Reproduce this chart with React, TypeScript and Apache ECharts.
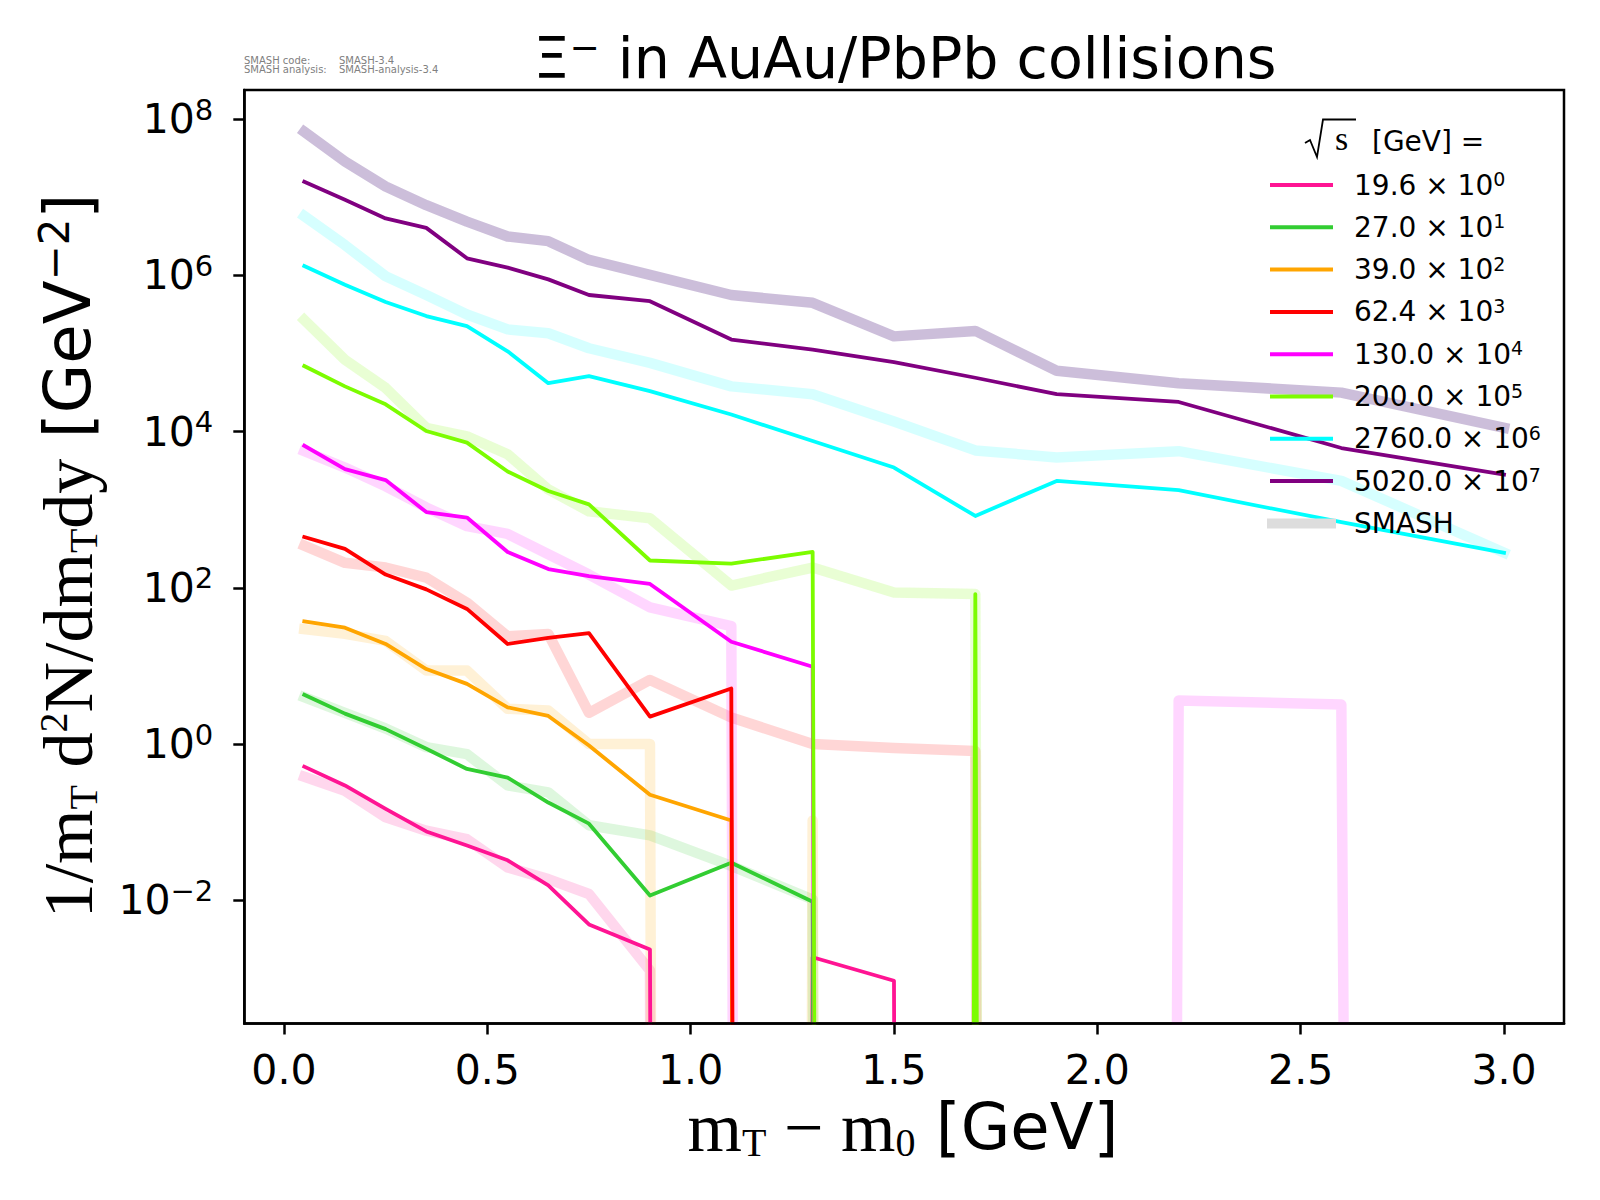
import React, { useEffect, useRef } from 'react';
import * as echarts from 'echarts';

// bin centres, m_T - m_0 [GeV]
export const mtBins = [0.05, 0.15, 0.25, 0.35, 0.45, 0.55, 0.65, 0.75, 0.9, 1.1, 1.3, 1.5, 1.7, 1.9, 2.2, 2.6, 3.0];

// measured spectra (already multiplied by the legend factor); 0 = empty bin
export const exp196 = [0.513, 0.295, 0.148, 0.0759, 0.0501, 0.0324, 0.0155, 0.0049, 0.00234, 0, 0.00186, 0.00093, 0, 0, 0, 0, 0];
export const exp270 = [4.27, 2.45, 1.55, 0.87, 0.479, 0.372, 0.178, 0.0955, 0.0115, 0.0302, 0.00955, 0, 0, 0, 0, 0, 0];
export const exp390 = [37.2, 30.9, 19.1, 9.12, 5.89, 2.95, 2.29, 0.955, 0.224, 0.105, 0, 0, 0, 0, 0, 0, 0];
export const exp624 = [447, 316, 148, 95.5, 53.7, 19.1, 22.9, 26.3, 2.24, 5.13, 0, 0, 0, 0, 0, 0, 0];
export const exp1300 = [6610, 3310, 2400, 933, 794, 288, 174, 141, 112, 20.4, 9.77, 0, 0, 0, 0, 0, 0];
export const exp2000 = [69200, 38000, 22400, 10200, 7240, 3090, 1740, 1170, 224, 204, 288, 0, 83.2, 0, 0, 0, 0];
export const exp27600 = [1.32e6, 7.59e5, 4.57e5, 3.02e5, 2.24e5, 1.07e5, 4.17e4, 5.13e4, 3.31e4, 1.66e4, 7590, 3470, 832, 2340, 1780, 692, 282];
export const exp50200 = [1.58e7, 9.33e6, 5.37e6, 4.07e6, 1.66e6, 1.26e6, 8.91e5, 5.62e5, 4.68e5, 1.51e5, 1.12e5, 7.76e4, 4.9e4, 3.02e4, 2.4e4, 6170, 2820];

// SMASH results, same scaling
export const smash196 = [0.38, 0.251, 0.115, 0.0776, 0.0603, 0.0263, 0.0186, 0.012, 0.00126, 0, 0, 0, 0, 0, 0, 0, 0];
export const smash270 = [3.98, 2.51, 1.58, 0.912, 0.741, 0.295, 0.24, 0.0912, 0.0676, 0.0275, 0.0102, 0, 0, 0, 0, 0, 0];
export const smash390 = [29.5, 25.7, 20.9, 8.71, 8.71, 2.82, 2.69, 1.0, 1.0, 0, 0.105, 0, 0, 0, 0, 0, 0];
export const smash624 = [347, 209, 182, 135, 64.6, 24.0, 25.7, 2.51, 6.61, 2.19, 1.0, 0.891, 0.813, 0, 0, 0, 0];
export const smash1300 = [5620, 3470, 2000, 1070, 617, 490, 269, 148, 56.2, 32.4, 0, 0, 0, 0, 3.6, 3.2, 0];
export const smash2000 = [269000, 83200, 36300, 11200, 8710, 5130, 1820, 955, 776, 107, 182, 87.1, 83.2, 0, 0, 0, 0];
export const smash27600 = [5.75e6, 2.45e6, 9.77e5, 5.62e5, 3.16e5, 2.04e5, 1.82e5, 1.17e5, 7.59e4, 3.8e4, 3.02e4, 1.35e4, 5750, 4680, 5620, 2340, 282];
export const smash50200 = [6.92e7, 2.88e7, 1.38e7, 7.94e6, 4.9e6, 3.16e6, 2.75e6, 1.58e6, 1.02e6, 5.62e5, 4.47e5, 1.66e5, 1.95e5, 6.03e4, 4.17e4, 3.16e4, 1.12e4];

export const energyLabels = ['19.6', '27.0', '39.0', '62.4', '130.0', '200.0', '2760.0', '5020.0'];
export const scalePowers = ['0', '1', '2', '3', '4', '5', '6', '7'];
export const yDecades = [-2, 0, 2, 4, 6, 8];
export const xTicks = [0, 0.5, 1.0, 1.5, 2.0, 2.5, 3.0];

const measured = [exp196, exp270, exp390, exp624, exp1300, exp2000, exp27600, exp50200];
const smash = [smash196, smash270, smash390, smash624, smash1300, smash2000, smash27600, smash50200];

const lineColors = ['#ff1493', '#32cd32', '#ffa500', '#ff0000', '#ff00ff', '#7cfc00', '#00ffff', '#800080'];
const smashColors = [
    'rgba(255,20,147,0.17)',
    'rgba(50,205,50,0.16)',
    'rgba(255,165,0,0.16)',
    'rgba(255,0,0,0.16)',
    'rgba(255,0,255,0.16)',
    'rgba(124,252,0,0.17)',
    'rgba(0,255,255,0.16)',
    'rgba(110,70,150,0.35)'
];

const LOG_MIN = -3.579;
const LOG_MAX = 8.375;
// empty bins are pushed far below the axis, so the line drops straight off the bottom
const EMPTY_BIN = -300;
const toLog = (v: number) => (v > 0 ? Math.log10(v) : EMPTY_BIN);
const minus = (s: string | number) => String(s).replace('-', '\u2212');

const SANS = 'DejaVu Sans';
const SERIF = 'Liberation Serif';

const App: React.FC = () => {
    const chartRef = useRef<HTMLDivElement>(null);

    useEffect(() => {
        if (!chartRef.current) return;
        const chart = echarts.init(chartRef.current, null, { renderer: 'svg' });

        const smashSeries = smash.map((vals, i) => ({
            type: 'line',
            name: 'SMASH ' + energyLabels[i],
            data: mtBins.map((x, j) => [x, toLog(vals[j])]),
            symbol: 'none',
            silent: true,
            z: 2,
            lineStyle: { color: smashColors[i], width: 10.5, join: 'round', cap: 'square' }
        }));
        const dataSeries = measured.map((vals, i) => ({
            type: 'line',
            name: energyLabels[i],
            data: mtBins.map((x, j) => [x, toLog(vals[j])]),
            symbol: 'none',
            silent: true,
            z: 3,
            lineStyle: { color: lineColors[i], width: 3.8, join: 'round', cap: 'square' }
        }));

        // legend, drawn by hand to match the matplotlib one
        const legendX = 1270;
        const rowY = (i: number) => 185 + i * 42.3;
        const legendEls: any[] = [];
        energyLabels.forEach((e, i) => {
            legendEls.push({
                type: 'line', z: 20, silent: true,
                shape: { x1: legendX, y1: rowY(i), x2: legendX + 63, y2: rowY(i) },
                style: { stroke: lineColors[i], lineWidth: 4 }
            });
            legendEls.push({
                type: 'text', z: 20, silent: true, x: 1354, y: rowY(i) - 1.5,
                style: {
                    text: `{m|${e} × 10}{p|${scalePowers[i]}}`,
                    fill: '#000', align: 'left', verticalAlign: 'middle',
                    textAlign: 'left', textVerticalAlign: 'middle',
                    rich: {
                        m: { fontFamily: SANS, fontSize: 28, lineHeight: 28, padding: [3, 0, 0, 0], fill: '#000' },
                        p: { fontFamily: SANS, fontSize: 19, lineHeight: 19, verticalAlign: 'top', fill: '#000' }
                    }
                }
            });
        });
        legendEls.push({
            type: 'line', z: 20, silent: true,
            shape: { x1: 1267, y1: rowY(8), x2: 1336, y2: rowY(8) },
            style: { stroke: '#dddddd', lineWidth: 10 }
        });
        legendEls.push({
            type: 'text', z: 20, silent: true, x: 1354, y: rowY(8),
            style: { text: 'SMASH', fill: '#000', fontFamily: SANS, fontSize: 28, align: 'left', verticalAlign: 'middle', textAlign: 'left', textVerticalAlign: 'middle' }
        });
        // legend title: sqrt(s) [GeV] =
        legendEls.push({
            type: 'polyline', z: 20, silent: true,
            shape: { points: [[1305, 143], [1310, 140], [1317, 157], [1323, 119.5], [1356, 119.5]] },
            style: { stroke: '#000', lineWidth: 1.8, fill: null }
        });
        legendEls.push({
            type: 'text', z: 20, silent: true, x: 1335, y: 138,
            style: { text: 's', fill: '#000', fontFamily: SERIF, fontSize: 34, align: 'left', verticalAlign: 'middle', textAlign: 'left', textVerticalAlign: 'middle' }
        });
        legendEls.push({
            type: 'text', z: 20, silent: true, x: 1372, y: 141,
            style: { text: '[GeV] =', fill: '#000', fontFamily: SANS, fontSize: 28, align: 'left', verticalAlign: 'middle', textAlign: 'left', textVerticalAlign: 'middle' }
        });

        const labelRich = {
            r: { fontFamily: SERIF, fontSize: 70, lineHeight: 70, fill: '#000' },
            rb: { fontFamily: SERIF, fontSize: 40, lineHeight: 40, verticalAlign: 'bottom', fill: '#000' },
            rt: { fontFamily: SERIF, fontSize: 40, lineHeight: 30, verticalAlign: 'top', fill: '#000' },
            s: { fontFamily: SANS, fontSize: 64, lineHeight: 70, fill: '#000' },
            st: { fontFamily: SANS, fontSize: 42, lineHeight: 34, verticalAlign: 'top', fill: '#000' }
        };

        const textEls: any[] = [
            {
                // hides the part of the thick lines that the clip path lets through below the axis
                type: 'rect', z: 5, silent: true,
                shape: { x: 240, y: 1025, width: 1330, height: 8 },
                style: { fill: '#ffffff' }
            },
            {
                type: 'text', z: 20, silent: true, x: 905, y: 58.4,
                style: {
                    text: '{t|\u039e}{tp|\u2212}{t|\u00a0in AuAu/PbPb collisions}',
                    fill: '#000', align: 'center', verticalAlign: 'middle', textAlign: 'center', textVerticalAlign: 'middle',
                    rich: {
                        t: { fontFamily: SANS, fontSize: 57, lineHeight: 57, fill: '#000' },
                        tp: { fontFamily: SANS, fontSize: 36, lineHeight: 36, verticalAlign: 'top', fill: '#000' }
                    }
                }
            },
            {
                type: 'text', z: 20, silent: true, x: 903, y: 1127,
                style: {
                    text: '{r|m}{rb|T}{r|\u00a0\u2212\u00a0m}{rb|0}{s|\u00a0[GeV]}',
                    fill: '#000', align: 'center', verticalAlign: 'middle', textAlign: 'center', textVerticalAlign: 'middle',
                    rich: labelRich
                }
            },
            {
                type: 'text', z: 20, silent: true, x: 68, y: 556, rotation: Math.PI / 2,
                style: {
                    text: '{r|1/m}{rb|T}{r|\u00a0d}{rt|2}{r|N/dm}{rb|T}{r|dy}{s|\u00a0[GeV}{st|\u22122}{s|]}',
                    fill: '#000', align: 'center', verticalAlign: 'middle', textAlign: 'center', textVerticalAlign: 'middle',
                    rich: labelRich
                }
            },
            {
                type: 'text', z: 20, silent: true, x: 244, y: 60,
                style: { text: 'SMASH code:', fill: '#808080', fontFamily: SANS, fontSize: 10, align: 'left', verticalAlign: 'middle', textAlign: 'left', textVerticalAlign: 'middle' }
            },
            {
                type: 'text', z: 20, silent: true, x: 339, y: 60,
                style: { text: 'SMASH-3.4', fill: '#808080', fontFamily: SANS, fontSize: 10, align: 'left', verticalAlign: 'middle', textAlign: 'left', textVerticalAlign: 'middle' }
            },
            {
                type: 'text', z: 20, silent: true, x: 244, y: 69,
                style: { text: 'SMASH analysis:', fill: '#808080', fontFamily: SANS, fontSize: 10, align: 'left', verticalAlign: 'middle', textAlign: 'left', textVerticalAlign: 'middle' }
            },
            {
                type: 'text', z: 20, silent: true, x: 339, y: 69,
                style: { text: 'SMASH-analysis-3.4', fill: '#808080', fontFamily: SANS, fontSize: 10, align: 'left', verticalAlign: 'middle', textAlign: 'left', textVerticalAlign: 'middle' }
            }
        ];

        const option: any = {
            animation: false,
            backgroundColor: '#ffffff',
            grid: {
                left: 244.3, right: 36, top: 90, bottom: 176.5,
                show: true, borderColor: '#000', borderWidth: 2.5,
                containLabel: false, outerBoundsMode: 'none'
            },
            xAxis: {
                type: 'value', min: -0.0975, max: 3.1475, z: 10,
                axisLine: { show: true, onZero: false, lineStyle: { color: '#000', width: 2.5 } },
                axisTick: { show: true, inside: false, length: 11, customValues: xTicks, lineStyle: { color: '#000', width: 2.5 } },
                axisLabel: {
                    customValues: xTicks, margin: 28.5, color: '#000', fontFamily: SANS, fontSize: 41, lineHeight: 36,
                    formatter: (v: number) => v.toFixed(1)
                },
                splitLine: { show: false }
            },
            yAxis: {
                type: 'value', min: LOG_MIN, max: LOG_MAX, z: 10,
                axisLine: { show: true, onZero: false, lineStyle: { color: '#000', width: 2.5 } },
                axisTick: { show: true, inside: false, length: 11, customValues: yDecades, lineStyle: { color: '#000', width: 2.5 } },
                axisLabel: {
                    customValues: yDecades, margin: 31, color: '#000', fontFamily: SANS, fontSize: 41,
                    padding: [0, 0, 7, 0],
                    formatter: (v: number) => `{n|10}{e|${minus(Math.round(v))}}`,
                    rich: {
                        n: { fontFamily: SANS, fontSize: 41, lineHeight: 41, padding: [7, 0, 0, 0], color: '#000' },
                        e: { fontFamily: SANS, fontSize: 29, lineHeight: 29, verticalAlign: 'top', color: '#000' }
                    }
                },
                splitLine: { show: false }
            },
            graphic: { elements: [...textEls, ...legendEls] },
            series: [...smashSeries, ...dataSeries]
        };

        chart.setOption(option);

        return () => {
            chart.dispose();
        };
    }, []);

    return (
        <div
            ref={chartRef}
            style={{ position: 'absolute', left: 0, top: 0, width: '1600px', height: '1200px', background: '#fff' }}
        />
    );
};

export default App;
